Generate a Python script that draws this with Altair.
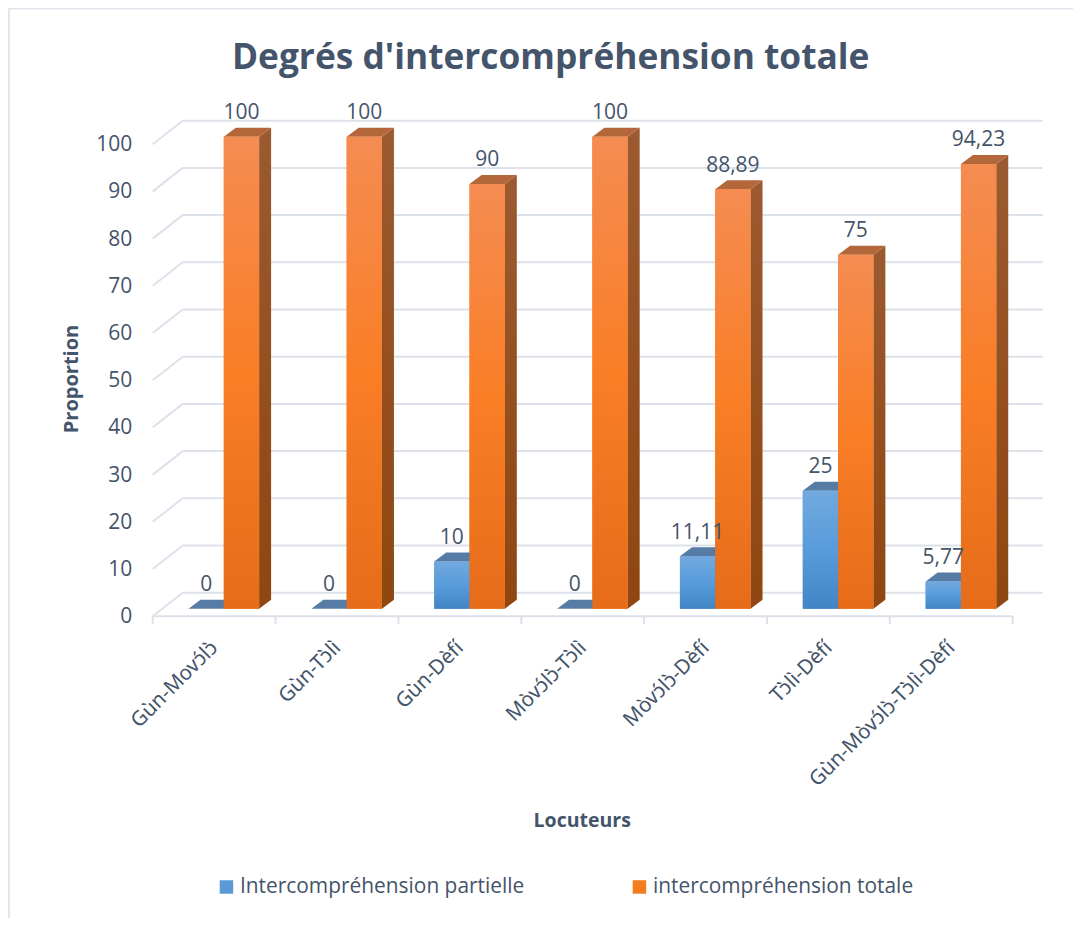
import altair as alt
import pandas as pd

categories = ["Gùn-Movɔ́lɔ̀", "Gùn-Tɔ̀lì", "Gùn-Dèfí", "Mòvɔ́lɔ̀-Tɔ̀lì", "Mòvɔ́lɔ̀-Dèfí", "Tɔ̀lì-Dèfí", "Gùn-Mòvɔ́lɔ̀-Tɔ̀lì-Dèfí"]
partielle = [0, 0, 10, 0, 11.11, 25, 5.77]
totale = [100, 100, 90, 100, 88.89, 75, 94.23]
partielle_labels = ["0", "0", "10", "0", "11,11", "25", "5,77"]
totale_labels = ["100", "100", "90", "100", "88,89", "75", "94,23"]
series_names = ["Intercompréhension partielle", "intercompréhension totale"]
y_ticks = list(range(0, 101, 10))

FONT = "Open Sans"
TEXT = "#44546a"
GRID = "#dde1ea"
FRAME = "#dfe5ea"

# geometry, expressed in scale units
PX_X = 860 / 7            # pixels per category
PX_Y = 4.72               # pixels per value unit
W, H = 890, 472
xs = alt.Scale(domain=[0, W / PX_X], nice=False, zero=False)
ys = alt.Scale(domain=[0, H / PX_Y], nice=False, zero=False)

BAR_W = 35.3 / PX_X
BLUE_0 = (188.5 - 152.7) / PX_X
DEPTH_X = 12 / PX_X
DEPTH_Y = 9 / PX_Y
BASE = 7.5 / PX_Y
WALL_X = 30 / PX_X
WALL_Y = 23.5 / PX_Y
LABEL_UP = 23.5 / PX_Y

label_expr = "[" + ",".join(f"'{c}'" for c in categories) + "][floor(datum.value)]"
X_AXIS = alt.Axis(
    values=[i + 0.5 for i in range(7)], labelExpr=label_expr, labelAngle=315, labelAlign="right",
    labelBaseline="middle", labelPadding=28, labelFontSize=20.5, labelColor=TEXT, labelFont="Noto Sans",
    labelLimit=400, labelOverlap=False, labelBound=False, labelFlush=False, domain=False, ticks=False, grid=False,
    titleFont=FONT, titleFontSize=19.5, titleFontWeight="bold", titleColor=TEXT,
    titleX=429, titleY=195, titleAnchor="middle")
Y_AXIS = alt.Axis(
    values=y_ticks, labelFontSize=21, labelColor=TEXT, labelFont=FONT, labelPadding=21, labelOffset=0.5,
    domain=False, ticks=False, grid=False, titleFont=FONT, titleFontSize=20, titleFontWeight="bold",
    titleColor=TEXT, titleX=-71.7, titleY=234.3, titleAnchor="middle")


def X(field="x", **kw):
    return alt.X(f"{field}:Q", scale=xs, axis=X_AXIS, title="Locuteurs", **kw)


def Y(field="y", **kw):
    return alt.Y(f"{field}:Q", scale=ys, axis=Y_AXIS, title="Proportion", **kw)


def grad(stops):
    return alt.Gradient(
        gradient="linear", x1=0, x2=0, y1=0, y2=1,
        stops=[alt.GradientStop(offset=o, color=c) for o, c in stops],
    )


rows = []
for s, (vals, labs, off) in enumerate([(partielle, partielle_labels, 0), (totale, totale_labels, BAR_W)]):
    for i, (c, v, l) in enumerate(zip(categories, vals, labs)):
        x0 = i + BLUE_0 + off
        rows.append(dict(cat=c, serie=series_names[s], s=s, v=v, label=l,
                         x0=x0, x1=x0 + BAR_W, y0=BASE, y1=BASE + v,
                         lx=x0 + BAR_W / 2, ly=BASE + v + LABEL_UP))
bars = pd.DataFrame(rows)

side_rows, top_rows = [], []
for r in rows:
    side_rows += [
        dict(id=r["cat"], s=r["s"], x=r["x1"], y=r["y1"] - 0, y2=r["y0"]),
        dict(id=r["cat"], s=r["s"], x=r["x1"] + DEPTH_X, y=r["y1"] + DEPTH_Y, y2=r["y0"] + DEPTH_Y),
    ]
    top_rows += [
        dict(id=r["cat"], s=r["s"], y=r["y1"], x=r["x0"], x2=r["x1"]),
        dict(id=r["cat"], s=r["s"], y=r["y1"] + DEPTH_Y, x=r["x0"] + DEPTH_X, x2=r["x1"] + DEPTH_X),
    ]
sides = pd.DataFrame(side_rows)
tops = pd.DataFrame(top_rows)

# back wall, side wall and floor
back = pd.DataFrame({"y": [v + WALL_Y for v in y_ticks]}).assign(x=WALL_X, x2=W / PX_X)
wall = pd.DataFrame({"v": y_ticks}).assign(x=0.0, x2=WALL_X, y2=lambda d: d.v + WALL_Y)
floor = pd.DataFrame({"x": [0.0], "x2": [7.0], "y": [0.0]})
ticks = pd.DataFrame({"x": list(range(8))}).assign(y=0.0, y2=-8 / PX_Y)

back_l = alt.Chart(back).mark_rule(color=GRID, strokeWidth=2).encode(x=X(), x2="x2:Q", y=Y())
wall_l = alt.Chart(wall).mark_rule(color=GRID, strokeWidth=2).encode(x=X(), x2="x2:Q", y=Y("v"), y2="y2:Q")
floor_l = alt.Chart(floor).mark_rule(color=GRID, strokeWidth=2).encode(x=X(), x2="x2:Q", y=Y())
ticks_l = alt.Chart(ticks).mark_rule(color=GRID, strokeWidth=2).encode(x=X(), y=Y(), y2="y2:Q")

# frame around the picture
frame_left = (8.9 - 152.7) / PX_X
frame_top = (616.2 - 8.5) / PX_Y
frame_bottom = (616.2 - 918) / PX_Y
frame = pd.DataFrame({"x": [frame_left], "x2": [(1073 - 152.7) / PX_X], "y": [frame_top], "y2": [frame_bottom]})
frame_h = alt.Chart(frame).mark_rule(color=FRAME, strokeWidth=2).encode(x=X(), x2="x2:Q", y=Y())
frame_v = alt.Chart(frame).mark_rule(color=FRAME, strokeWidth=2).encode(x=X(), y=Y(), y2="y2:Q")

# legend-bearing solid front faces
solid = alt.Chart(bars).mark_rect().encode(
    x=X("x0"), x2="x1:Q", y=Y("y0"), y2="y1:Q",
    color=alt.Color("serie:N", sort=series_names, title=None,
                    scale=alt.Scale(domain=series_names, range=["#5b9bd5", "#f47d20"]),
                    legend=alt.Legend(orient="none", legendX=63.3, legendY=732, direction="horizontal",
                                      columns=2, columnPadding=104, symbolType="square", symbolSize=182,
                                      symbolStrokeWidth=0, labelOffset=3, labelFont=FONT, labelFontSize=20.9,
                                      labelColor=TEXT, labelLimit=400)),
)

BLUE_FRONT = grad([(0, "#72a9de"), (0.5, "#589cdc"), (1, "#4285c6")])
ORANGE_FRONT = grad([(0, "#f58c52"), (0.5, "#f97e26"), (1, "#e66c1a")])
BLUE_SIDE = grad([(0, "#4d79a8"), (1, "#2f5f92")])
ORANGE_SIDE = grad([(0, "#9b5a30"), (1, "#8f4610")])
BLUE_TOP = "#567ca6"
ORANGE_TOP = "#b5673c"


def series_layers(s, front, side, top):
    fb = bars[bars.s == s]
    return [
        alt.Chart(sides[sides.s == s]).mark_area(color=side, line=False, interpolate="linear").encode(
            x=X(), y=Y(), y2="y2:Q", detail="id:N"),
        alt.Chart(tops[tops.s == s]).mark_area(color=top, orient="horizontal", interpolate="linear").encode(
            y=Y(), x=X(), x2="x2:Q", detail="id:N"),
        alt.Chart(fb).mark_rect(color=front).encode(x=X("x0"), x2="x1:Q", y=Y("y0"), y2="y1:Q"),
    ]


text = alt.Chart(bars).mark_text(font=FONT, fontSize=21, color=TEXT, baseline="middle", align="center").encode(
    x=X("lx"), y=Y("ly"), text="label:N")

chart = alt.layer(
    frame_h, frame_v, back_l, wall_l, floor_l, ticks_l, solid,
    *series_layers(0, BLUE_FRONT, BLUE_SIDE, BLUE_TOP),
    *series_layers(1, ORANGE_FRONT, ORANGE_SIDE, ORANGE_TOP),
    text,
).properties(
    width=W, height=H,
    autosize=alt.AutoSizeParams(type="none"),
    padding={"left": 144.7, "top": 136.2, "right": 30.3, "bottom": 301.8},
    background="white",
    title=alt.TitleParams("Degrés d'intercompréhension totale", font=FONT, fontSize=35.3, fontWeight="bold",
                          color=TEXT, anchor="middle", dx=-47, offset=-69),
).configure_view(stroke=None)

chart.save("out.html", embed_options={"renderer": "svg", "actions": False})
